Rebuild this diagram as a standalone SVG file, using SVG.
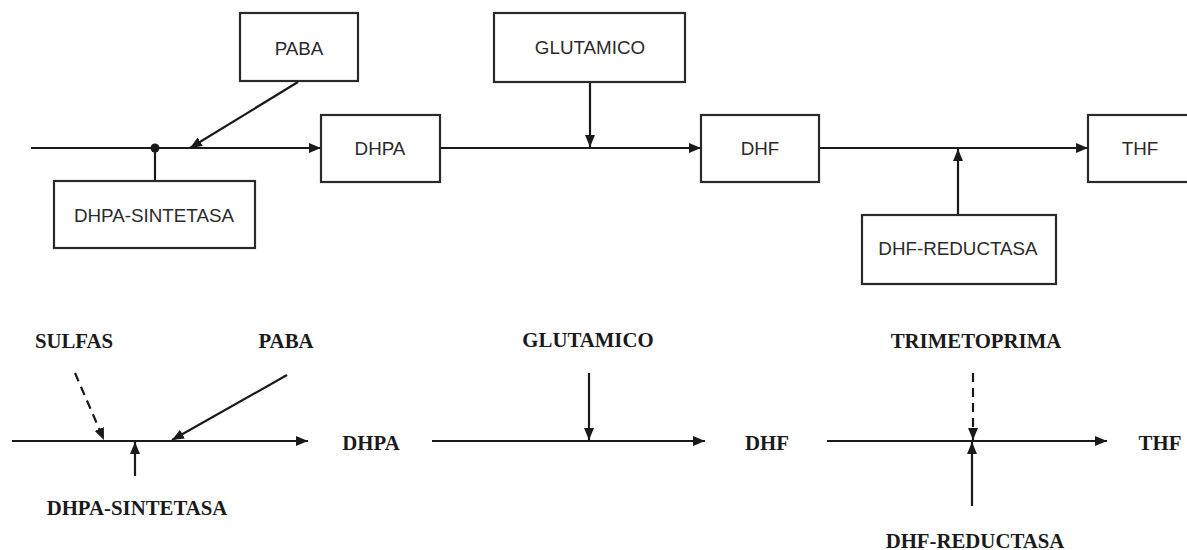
<svg xmlns="http://www.w3.org/2000/svg" width="1187" height="550" viewBox="0 0 1187 550">
<style>
.box{fill:#fff;stroke:#2a2a2a;stroke-width:2.2}
.t{font-family:"Liberation Sans",Arial,sans-serif;font-size:18.8px;fill:#2a2a2a;text-anchor:middle;dominant-baseline:central}
.s{font-family:"Liberation Serif","Times New Roman",serif;font-size:20.8px;font-weight:bold;fill:#1a1a1a;text-anchor:middle;dominant-baseline:central}
.ln{stroke:#1a1a1a;stroke-width:2.2;fill:none}
.ar{marker-end:url(#ah)}
.d{stroke-dasharray:9,6}
</style>
<defs>
<marker id="ah" markerUnits="userSpaceOnUse" markerWidth="13" markerHeight="10" refX="12" refY="5" orient="auto">
<path d="M0,0 L12,5 L0,10 z" fill="#1a1a1a"/>
</marker>
</defs>
<rect width="1187" height="550" fill="#fff"/>
<g id="connectors">
<line class="ln ar" x1="31" y1="148" x2="321" y2="148"/>
<circle cx="155" cy="148" r="4.5" fill="#1a1a1a"/>
<line class="ln" x1="155" y1="148" x2="155" y2="181"/>
<line class="ln ar" x1="298" y1="82" x2="190" y2="148"/>
<line class="ln ar" x1="440" y1="148" x2="701" y2="148"/>
<line class="ln ar" x1="590" y1="82" x2="590" y2="147"/>
<line class="ln ar" x1="819" y1="148" x2="1088" y2="148"/>
<line class="ln ar" x1="958" y1="215" x2="958" y2="149"/>
<line class="ln ar" x1="12" y1="441" x2="308" y2="441"/>
<line class="ln ar d" x1="75" y1="373" x2="104" y2="440"/>
<line class="ln ar" x1="287" y1="375" x2="172" y2="440"/>
<line class="ln ar" x1="135" y1="476" x2="135" y2="442"/>
<line class="ln ar" x1="432" y1="441" x2="705" y2="441"/>
<line class="ln ar" x1="589" y1="373" x2="589" y2="440"/>
<line class="ln ar" x1="827" y1="441" x2="1107" y2="441"/>
<line class="ln ar d" x1="973" y1="373" x2="973" y2="440"/>
<line class="ln ar" x1="972" y1="506" x2="972" y2="442"/>
</g>
<g id="paba-box"><rect class="box" x="240" y="13" width="118" height="68"/><text class="t" x="299" y="48">PABA</text></g>
<g id="dhpa-box"><rect class="box" x="321" y="115" width="119" height="67"/><text class="t" x="380" y="148">DHPA</text></g>
<g id="dhpa-sintetasa-box"><rect class="box" x="54" y="181" width="201" height="67"/><text class="t" x="154" y="215">DHPA-SINTETASA</text></g>
<g id="glutamico-box"><rect class="box" x="494" y="13" width="191" height="69"/><text class="t" x="590" y="47">GLUTAMICO</text></g>
<g id="dhf-box"><rect class="box" x="701" y="115" width="118" height="67"/><text class="t" x="760" y="148">DHF</text></g>
<g id="thf-box"><rect class="box" x="1088" y="115" width="110" height="67"/><text class="t" x="1140" y="148">THF</text></g>
<g id="dhf-reductasa-box"><rect class="box" x="862" y="215" width="194" height="69"/><text class="t" x="958" y="248">DHF-REDUCTASA</text></g>
<g id="sulfas"><text class="s" x="74" y="340">SULFAS</text></g>
<g id="paba2"><text class="s" x="286" y="340">PABA</text></g>
<g id="dhpa-sintetasa2"><text class="s" x="137" y="507">DHPA-SINTETASA</text></g>
<g id="dhpa2"><text class="s" x="371" y="442">DHPA</text></g>
<g id="glutamico2"><text class="s" x="588" y="339">GLUTAMICO</text></g>
<g id="dhf2"><text class="s" x="767" y="442">DHF</text></g>
<g id="trimetoprima"><text class="s" x="976" y="340">TRIMETOPRIMA</text></g>
<g id="thf2"><text class="s" x="1160" y="442">THF</text></g>
<g id="dhf-reductasa2"><text class="s" x="975" y="540">DHF-REDUCTASA</text></g>
</svg>
